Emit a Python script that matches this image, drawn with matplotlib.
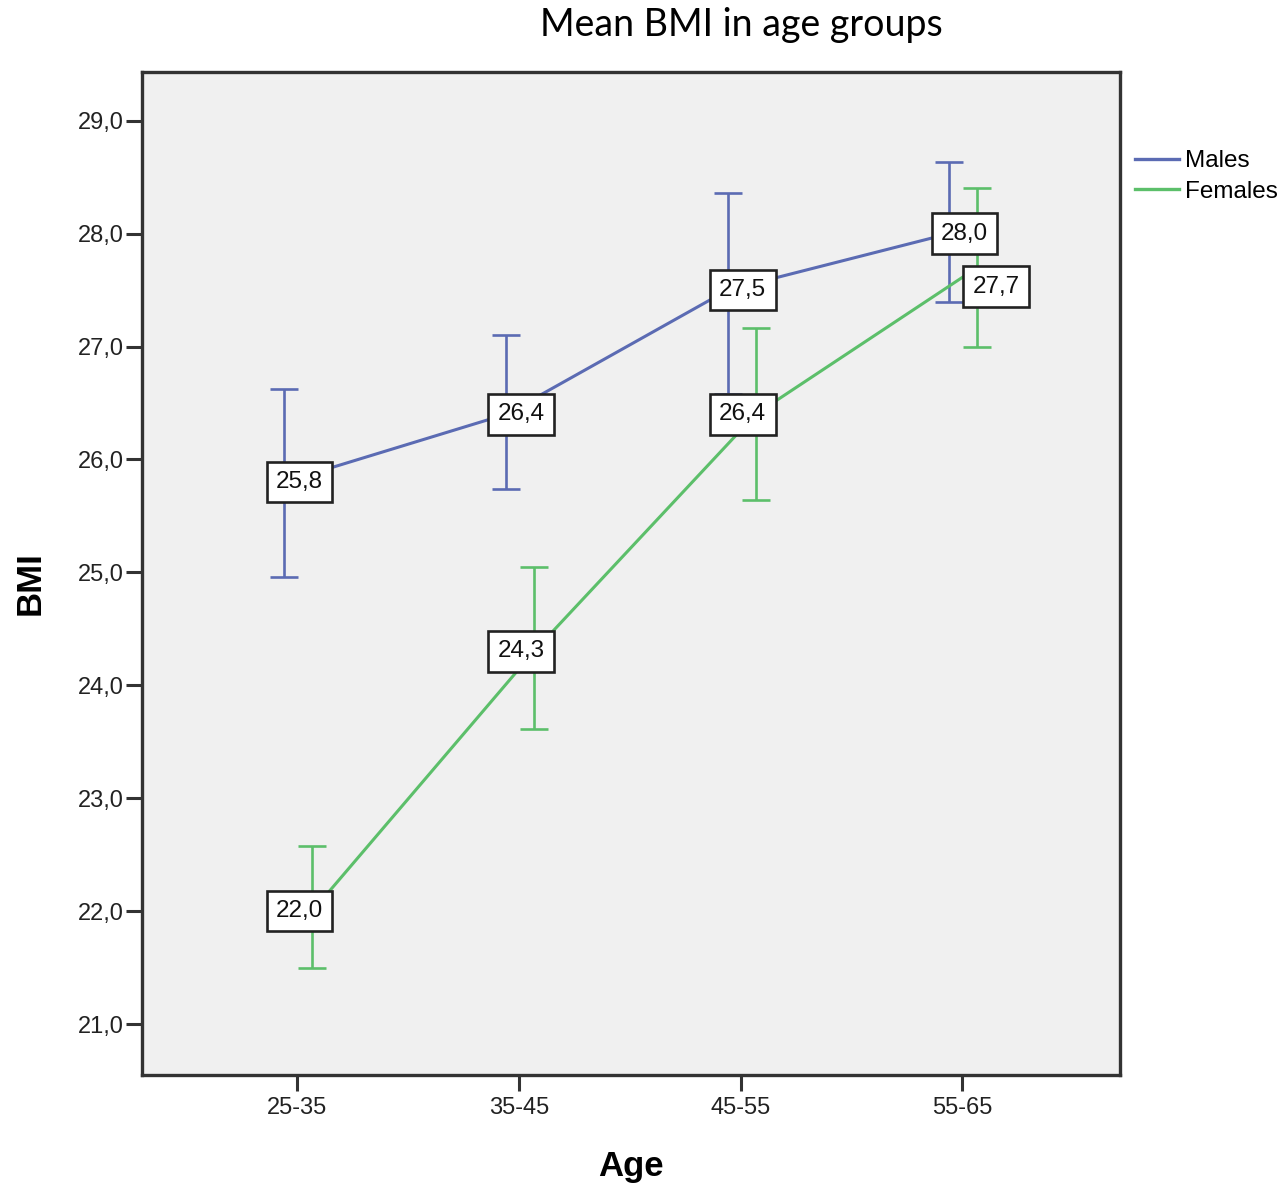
import matplotlib
matplotlib.use("Agg")
import matplotlib.pyplot as plt
from matplotlib.ticker import FixedLocator, FuncFormatter
from matplotlib.lines import Line2D

# Age groups and BMI summary statistics
age_groups = ["25-35", "35-45", "45-55", "55-65"]

male_mean = [25.8, 26.4, 27.5, 28.0]
male_low = [24.96, 25.74, 26.58, 27.39]
male_high = [26.62, 27.10, 28.36, 28.63]

female_mean = [22.0, 24.3, 26.4, 27.7]
female_low = [21.50, 23.61, 25.64, 27.00]
female_high = [22.58, 25.05, 27.16, 28.40]

y_ticks = [21, 22, 23, 24, 25, 26, 27, 28, 29]

blue = "#5b6bb3"
green = "#5cbf6a"
sans = "Liberation Sans"

fig = plt.figure(figsize=(12.83, 11.89), dpi=100)
ax = fig.add_axes([0.1107, 0.0959, 0.762, 0.8435])
ax.set_facecolor("#f0f0f0")

x = list(range(len(age_groups)))
male_x = [v - 0.058 for v in x]
female_x = [v + 0.068 for v in x]


def draw_series(xs, mean, low, high, color, name):
    yerr = [[m - l for m, l in zip(mean, low)], [h - m for m, h in zip(mean, high)]]
    ax.errorbar(xs, mean, yerr=yerr, color=color, lw=2.2, elinewidth=1.9,
                capsize=10, capthick=1.9, label=name, zorder=2)


draw_series(male_x, male_mean, male_low, male_high, blue, "Males")
draw_series(female_x, female_mean, female_low, female_high, green, "Females")

# Value boxes; the last female box is nudged so it clears the male one
box = dict(boxstyle="square,pad=0.38", fc="white", ec="#222222", lw=1.9)


def fmt(v):
    return f"{v:.1f}".replace(".", ",")


for i, m in enumerate(male_mean):
    ax.text(x[i] + 0.01, m, fmt(m), ha="center", va="center",
            fontsize=17.5, family=sans, color="#111111", bbox=box, zorder=5)
for i, m in enumerate(female_mean):
    dx, dy = (0.153, -0.17) if i == 3 else (0.01, 0.0)
    ax.text(x[i] + dx, m + dy, fmt(m), ha="center", va="center",
            fontsize=17.5, family=sans, color="#111111", bbox=box, zorder=5)

ax.set_xlim(-0.70, 3.71)
ax.set_ylim(20.55, 29.43)
ax.set_xticks(x)
ax.set_xticklabels(age_groups)
ax.yaxis.set_major_locator(FixedLocator(y_ticks))
ax.yaxis.set_major_formatter(FuncFormatter(lambda v, p: fmt(v)))

for lab in ax.get_xticklabels() + ax.get_yticklabels():
    lab.set_family(sans)
    lab.set_fontsize(17)
    lab.set_color("#222222")
ax.tick_params(axis="both", direction="out", length=11.5, width=2.2, color="#333333")
ax.tick_params(axis="y", pad=1.5)
ax.tick_params(axis="x", pad=4)

for s in ax.spines.values():
    s.set_color("#333333")
    s.set_linewidth(2.4)

ax.set_ylabel("BMI", fontsize=25, fontweight="bold", family=sans, va="center")
ax.set_xlabel("Age", fontsize=25, fontweight="bold", family=sans, va="center")
ax.yaxis.set_label_coords(-0.1145, 0.49)
ax.xaxis.set_label_coords(0.5, -0.091)

fig.text(0.5775, 0.979, "Mean BMI in age groups", ha="center", va="center",
         fontsize=27, family="Lato")

leg_handles = [Line2D([], [], color=blue, lw=2.4), Line2D([], [], color=green, lw=2.4)]
fig.legend(leg_handles, ["Males", "Females"], loc="upper left",
           bbox_to_anchor=(0.877, 0.882), frameon=False, handlelength=1.8,
           handletextpad=0.25, labelspacing=0.35, borderaxespad=0,
           prop={"family": sans, "size": 17.5})

fig.savefig("out.png", dpi=100, facecolor="white")
